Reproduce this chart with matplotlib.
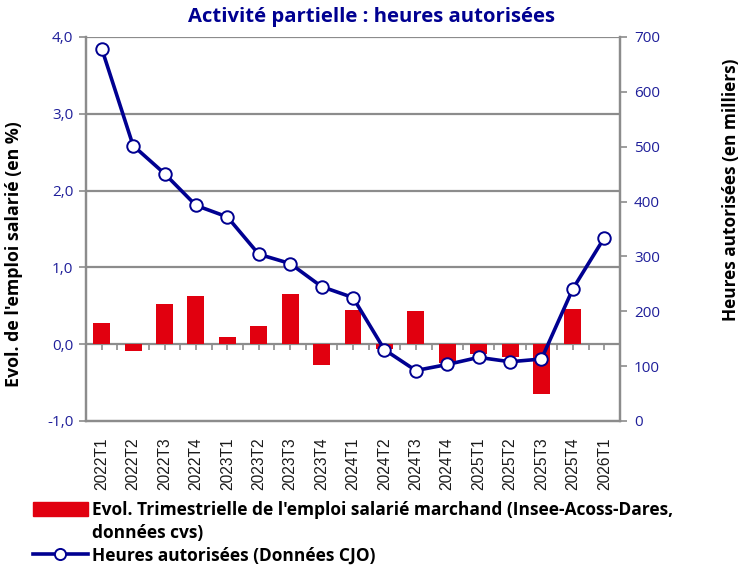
import matplotlib
matplotlib.use("Agg")
import matplotlib.pyplot as plt
import numpy as np
from matplotlib.patches import Patch
from matplotlib.lines import Line2D

categories = ["2022T1", "2022T2", "2022T3", "2022T4", "2023T1", "2023T2", "2023T3",
              "2023T4", "2024T1", "2024T2", "2024T3", "2024T4", "2025T1", "2025T2",
              "2025T3", "2025T4", "2026T1"]
emploi = [0.27, -0.09, 0.52, 0.63, 0.09, 0.24, 0.65, -0.27, 0.45, -0.06, 0.43,
          -0.25, -0.13, -0.17, -0.65, 0.46, np.nan]
heures = [679, 502, 451, 393, 372, 304, 287, 245, 225, 130, 92, 103, 116, 108,
          113, 241, 334]
left_ticks = [-1.0, 0.0, 1.0, 2.0, 3.0, 4.0]
right_ticks = [0, 100, 200, 300, 400, 500, 600, 700]

title = "Activité partielle : heures autorisées"
ylabel_left = "Evol. de l'emploi salarié (en %)"
ylabel_right = "Heures autorisées (en milliers)"
leg_bar_1 = "Evol. Trimestrielle de l'emploi salarié marchand (Insee-Acoss-Dares,"
leg_bar_2 = "données cvs)"
leg_line = "Heures autorisées (Données CJO)"

NAVY = "#000091"
TICKBLUE = "#1f1f9a"
RED = "#E1000F"
GRAY = "#8c8c8c"
GEO = ["Open Sans", "DejaVu Sans"]
ARIAL = ["Liberation Sans", "DejaVu Sans"]

fig = plt.figure(figsize=(7.45, 5.7), dpi=100)
ax = fig.add_axes([86 / 745, 1 - 421 / 570, (620 - 86) / 745, (421 - 37) / 570])
ax2 = ax.twinx()

x = np.arange(len(categories))
ax.bar(x, emploi, width=0.54, color=RED, zorder=3)
ax.set_ylim(-1.0, 4.0)
ax.set_xlim(-0.5, len(categories) - 0.5)
ax.set_yticks(left_ticks)
ax.set_yticklabels([f"{v:.1f}".replace(".", ",") for v in left_ticks],
                   family=GEO, fontsize=11, color=TICKBLUE)
for v in left_ticks[2:]:
    ax.axhline(v, color=GRAY, lw=1.6, zorder=1)
ax.axhline(0, color=GRAY, lw=1.6, zorder=2)

ax.set_xticks(x)
ax.set_xticklabels(categories, rotation=90, family=ARIAL, fontsize=11.2, color="#1a1a1a")
ax.tick_params(axis="x", length=0, pad=12)
ax.tick_params(axis="y", length=5, width=1.2, color=GRAY, pad=4)

# category axis ticks on the zero line
sec = ax.secondary_xaxis(0.2)
sec.set_xticks(np.arange(-0.5, len(categories), 0.5))
sec.tick_params(axis="x", length=4, width=1.2, color=GRAY, labelbottom=False)
sec.spines["bottom"].set_visible(False)

for s in ["top"]:
    ax.spines[s].set_visible(False)
    ax2.spines[s].set_visible(False)
for s in ["left", "right", "bottom"]:
    ax.spines[s].set_color(GRAY)
    ax.spines[s].set_linewidth(1.6)
    ax2.spines[s].set_color(GRAY)
    ax2.spines[s].set_linewidth(1.6)

ax2.plot(x, heures, color=NAVY, lw=2.6, marker="o", markersize=9,
         markerfacecolor="white", markeredgecolor=NAVY, markeredgewidth=1.4, zorder=5)
ax2.set_ylim(0, 700)
ax2.set_yticks(right_ticks)
ax2.set_yticklabels([str(v) for v in right_ticks], family=GEO, fontsize=11, color=TICKBLUE)
ax2.tick_params(axis="y", length=5, width=1.2, color=GRAY, pad=5)

fig.text(372 / 745, 1 - 17 / 570, title, ha="center", va="center", family=GEO,
         fontweight="bold", fontsize=14.6, color=NAVY)
fig.text(14 / 745, 1 - 254 / 570, ylabel_left, rotation=90, ha="center", va="center",
         family=GEO, fontweight="bold", fontsize=12.8, color="black")
fig.text(731 / 745, 1 - 190 / 570, ylabel_right, rotation=90, ha="center", va="center",
         family=GEO, fontweight="bold", fontsize=12.4, color="black")

handles = [Patch(facecolor=RED, edgecolor=RED),
           Line2D([], [], color="none"),
           Line2D([], [], color=NAVY, lw=2.6, marker="o", markersize=8,
                  markerfacecolor="white", markeredgecolor=NAVY, markeredgewidth=1.4)]
labels = [leg_bar_1, leg_bar_2, leg_line]
leg = fig.legend(handles, labels, loc="upper left", bbox_to_anchor=(33 / 745, 1 - 501 / 570),
                 frameon=False, prop={"family": GEO, "weight": "bold", "size": 12.5},
                 handlelength=3.15, handleheight=0.8, handletextpad=0.25,
                 labelspacing=0.28, borderaxespad=0, borderpad=0)

fig.savefig("out.png", dpi=100)
